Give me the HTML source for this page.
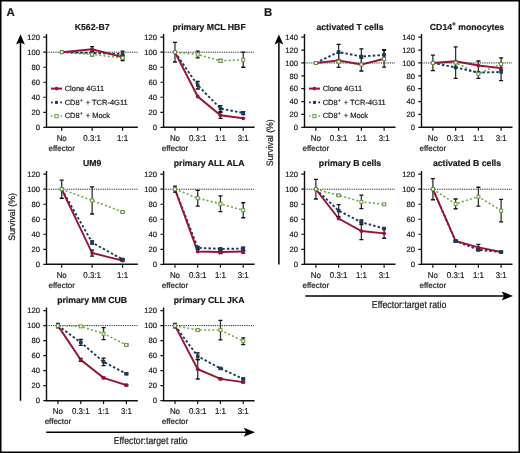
<!DOCTYPE html>
<html><head><meta charset="utf-8"><style>
html,body{margin:0;padding:0;background:#fff;}
body{width:520px;height:453px;overflow:hidden;}
svg{display:block;filter:blur(0.3px);}
text{font-family:"Liberation Sans", sans-serif;fill:#1a1a1a;stroke:#1a1a1a;stroke-width:0.2px;text-rendering:geometricPrecision;}
.yt{font-size:7.6px;text-anchor:end;}
.xt{font-size:8.5px;text-anchor:middle;}
.xe{font-size:8px;text-anchor:middle;}
.tt{font-size:8.7px;font-weight:bold;text-anchor:middle;}
.lg{font-size:7.5px;}
.sup{font-size:5px;}
.sup2{font-size:6.5px;}
.ax{font-size:10px;text-anchor:middle;}
.sv{font-size:9.3px;text-anchor:middle;}
.pl{font-size:11.4px;font-weight:bold;}
</style></head><body>
<svg width="520" height="453" viewBox="0 0 520 453">
<rect x="0" y="0" width="520" height="453" fill="#fff"/>
<rect x="0.75" y="0.75" width="518.5" height="451.5" fill="none" stroke="#000" stroke-width="1.5"/>
<path d="M46.5 34V127.3H137.8" fill="none" stroke="#111" stroke-width="1.4"/>
<path d="M43.3 127.3H46.5M43.3 112.28H46.5M43.3 97.27H46.5M43.3 82.25H46.5M43.3 67.23H46.5M43.3 52.22H46.5M43.3 37.2H46.5M61.72 127.3V130.7M92.15 127.3V130.7M122.58 127.3V130.7" fill="none" stroke="#111" stroke-width="1.2"/>
<text x="39.9" y="130" class="yt">0</text>
<text x="39.9" y="114.98" class="yt">20</text>
<text x="39.9" y="99.97" class="yt">40</text>
<text x="39.9" y="84.95" class="yt">60</text>
<text x="39.9" y="69.93" class="yt">80</text>
<text x="39.9" y="54.92" class="yt">100</text>
<text x="39.9" y="39.9" class="yt">120</text>
<text transform="translate(61.72 141) scale(0.93 1)" class="xt">No</text>
<text transform="translate(92.15 141) scale(0.93 1)" class="xt">0.3:1</text>
<text transform="translate(122.58 141) scale(0.93 1)" class="xt">1:1</text>
<text x="61.72" y="151" class="xe">effector</text>
<text x="92.15" y="29.5" class="tt">K562-B7</text>
<path d="M47.5 52.22H137.8" stroke="#111" stroke-width="1" stroke-dasharray="0.9 0.9"/>
<polyline points="61.72,52.22 92.15,54.47 122.58,57.85" fill="none" stroke="#74a845" stroke-width="1.6" stroke-dasharray="2 2.2"/>
<polyline points="61.72,52.22 92.15,52.97 122.58,54.09" fill="none" stroke="#1c3a5e" stroke-width="1.9" stroke-dasharray="2.5 2.1"/>
<polyline points="61.72,52.22 92.15,49.21 122.58,57.1" fill="none" stroke="#94143a" stroke-width="1.9"/>
<path d="M92.15 46.59V51.84" stroke="#333" stroke-width="1.3" fill="none"/>
<path d="M90.15 46.59H94.15M90.15 51.84H94.15" stroke="#111" stroke-width="1.3" fill="none"/>
<path d="M122.58 55.6V58.6" stroke="#333" stroke-width="1.3" fill="none"/>
<path d="M120.58 55.6H124.58M120.58 58.6H124.58" stroke="#111" stroke-width="1.3" fill="none"/>
<path d="M92.15 51.47V54.47" stroke="#333" stroke-width="1.3" fill="none"/>
<path d="M90.15 51.47H94.15M90.15 54.47H94.15" stroke="#111" stroke-width="1.3" fill="none"/>
<path d="M122.58 51.09V57.1" stroke="#333" stroke-width="1.3" fill="none"/>
<path d="M120.58 51.09H124.58M120.58 57.1H124.58" stroke="#111" stroke-width="1.3" fill="none"/>
<path d="M92.15 52.97V55.97" stroke="#333" stroke-width="1.3" fill="none"/>
<path d="M90.15 52.97H94.15M90.15 55.97H94.15" stroke="#111" stroke-width="1.3" fill="none"/>
<path d="M122.58 55.22V60.48" stroke="#333" stroke-width="1.3" fill="none"/>
<path d="M120.58 55.22H124.58M120.58 60.48H124.58" stroke="#111" stroke-width="1.3" fill="none"/>
<circle cx="61.72" cy="52.22" r="1.9" fill="#94143a"/>
<circle cx="92.15" cy="49.21" r="1.9" fill="#94143a"/>
<circle cx="122.58" cy="57.1" r="1.9" fill="#94143a"/>
<rect x="59.92" y="50.42" width="3.6" height="3.6" fill="#1c3a5e"/>
<rect x="90.35" y="51.17" width="3.6" height="3.6" fill="#1c3a5e"/>
<rect x="120.78" y="52.29" width="3.6" height="3.6" fill="#1c3a5e"/>
<rect x="60.22" y="50.72" width="3" height="3" fill="#fff" stroke="#679a3e" stroke-width="1"/>
<rect x="90.65" y="52.97" width="3" height="3" fill="#fff" stroke="#679a3e" stroke-width="1"/>
<rect x="121.08" y="56.35" width="3" height="3" fill="#fff" stroke="#679a3e" stroke-width="1"/>
<path d="M51 88.6H62" stroke="#94143a" stroke-width="2.0"/>
<circle cx="56.5" cy="88.6" r="1.8" fill="#94143a"/>
<path d="M51 102.4H52.8M60.2 102.4H62" stroke="#1c3a5e" stroke-width="1.8"/>
<rect x="55" y="100.9" width="3" height="3" fill="#1c3a5e"/>
<path d="M51 116.2H52.6M60.4 116.2H62" stroke="#679a3e" stroke-width="1.3"/>
<rect x="54.9" y="114.6" width="3.2" height="3.2" fill="#fff" stroke="#679a3e" stroke-width="1"/>
<text x="64.7" y="91.2" class="lg">Clone 4G11</text>
<text x="64.7" y="104.7" class="lg">CD8<tspan class="sup" dy="-3">+</tspan><tspan dy="3" dx="1"> + TCR-4G11</tspan></text>
<text x="64.7" y="118.4" class="lg">CD8<tspan class="sup" dy="-3">+</tspan><tspan dy="3" dx="1"> + Mock</tspan></text>
<path d="M163.6 34V127.3H254.6" fill="none" stroke="#111" stroke-width="1.4"/>
<path d="M160.4 127.3H163.6M160.4 112.28H163.6M160.4 97.27H163.6M160.4 82.25H163.6M160.4 67.23H163.6M160.4 52.22H163.6M160.4 37.2H163.6M174.97 127.3V130.7M197.72 127.3V130.7M220.47 127.3V130.7M243.22 127.3V130.7" fill="none" stroke="#111" stroke-width="1.2"/>
<text x="157" y="130" class="yt">0</text>
<text x="157" y="114.98" class="yt">20</text>
<text x="157" y="99.97" class="yt">40</text>
<text x="157" y="84.95" class="yt">60</text>
<text x="157" y="69.93" class="yt">80</text>
<text x="157" y="54.92" class="yt">100</text>
<text x="157" y="39.9" class="yt">120</text>
<text transform="translate(174.97 141) scale(0.93 1)" class="xt">No</text>
<text transform="translate(197.72 141) scale(0.93 1)" class="xt">0.3:1</text>
<text transform="translate(220.47 141) scale(0.93 1)" class="xt">1:1</text>
<text transform="translate(243.22 141) scale(0.93 1)" class="xt">3:1</text>
<text x="174.97" y="151" class="xe">effector</text>
<text x="209.1" y="29.5" class="tt">primary MCL HBF</text>
<path d="M164.6 52.22H254.6" stroke="#111" stroke-width="1" stroke-dasharray="0.9 0.9"/>
<polyline points="174.97,52.22 197.72,54.47 220.47,60.85 243.22,59.73" fill="none" stroke="#74a845" stroke-width="1.6" stroke-dasharray="2 2.2"/>
<polyline points="174.97,52.22 197.72,85.25 220.47,108.53 243.22,113.03" fill="none" stroke="#1c3a5e" stroke-width="1.9" stroke-dasharray="2.5 2.1"/>
<polyline points="174.97,52.22 197.72,96.52 220.47,115.29 243.22,118.29" fill="none" stroke="#94143a" stroke-width="1.9"/>
<path d="M174.97 42.46V61.98" stroke="#333" stroke-width="1.3" fill="none"/>
<path d="M172.97 42.46H176.97M172.97 61.98H176.97" stroke="#111" stroke-width="1.3" fill="none"/>
<path d="M220.47 112.28V118.29" stroke="#333" stroke-width="1.3" fill="none"/>
<path d="M218.47 112.28H222.47M218.47 118.29H222.47" stroke="#111" stroke-width="1.3" fill="none"/>
<path d="M197.72 81.5V89.01" stroke="#333" stroke-width="1.3" fill="none"/>
<path d="M195.72 81.5H199.72M195.72 89.01H199.72" stroke="#111" stroke-width="1.3" fill="none"/>
<path d="M220.47 105.53V111.53" stroke="#333" stroke-width="1.3" fill="none"/>
<path d="M218.47 105.53H222.47M218.47 111.53H222.47" stroke="#111" stroke-width="1.3" fill="none"/>
<path d="M243.22 111.53V114.54" stroke="#333" stroke-width="1.3" fill="none"/>
<path d="M241.22 111.53H245.22M241.22 114.54H245.22" stroke="#111" stroke-width="1.3" fill="none"/>
<path d="M197.72 51.09V57.85" stroke="#333" stroke-width="1.3" fill="none"/>
<path d="M195.72 51.09H199.72M195.72 57.85H199.72" stroke="#111" stroke-width="1.3" fill="none"/>
<path d="M220.47 59.35V62.35" stroke="#333" stroke-width="1.3" fill="none"/>
<path d="M218.47 59.35H222.47M218.47 62.35H222.47" stroke="#111" stroke-width="1.3" fill="none"/>
<path d="M243.22 52.22V67.23" stroke="#333" stroke-width="1.3" fill="none"/>
<path d="M241.22 52.22H245.22M241.22 67.23H245.22" stroke="#111" stroke-width="1.3" fill="none"/>
<circle cx="174.97" cy="52.22" r="1.9" fill="#94143a"/>
<circle cx="197.72" cy="96.52" r="1.9" fill="#94143a"/>
<circle cx="220.47" cy="115.29" r="1.9" fill="#94143a"/>
<circle cx="243.22" cy="118.29" r="1.9" fill="#94143a"/>
<rect x="173.17" y="50.42" width="3.6" height="3.6" fill="#1c3a5e"/>
<rect x="195.92" y="83.45" width="3.6" height="3.6" fill="#1c3a5e"/>
<rect x="218.67" y="106.73" width="3.6" height="3.6" fill="#1c3a5e"/>
<rect x="241.42" y="111.23" width="3.6" height="3.6" fill="#1c3a5e"/>
<rect x="173.47" y="50.72" width="3" height="3" fill="#fff" stroke="#679a3e" stroke-width="1"/>
<rect x="196.22" y="52.97" width="3" height="3" fill="#fff" stroke="#679a3e" stroke-width="1"/>
<rect x="218.97" y="59.35" width="3" height="3" fill="#fff" stroke="#679a3e" stroke-width="1"/>
<rect x="241.72" y="58.23" width="3" height="3" fill="#fff" stroke="#679a3e" stroke-width="1"/>
<path d="M46.5 171V264.3H137.8" fill="none" stroke="#111" stroke-width="1.4"/>
<path d="M43.3 264.3H46.5M43.3 249.28H46.5M43.3 234.27H46.5M43.3 219.25H46.5M43.3 204.23H46.5M43.3 189.22H46.5M43.3 174.2H46.5M61.72 264.3V267.7M92.15 264.3V267.7M122.58 264.3V267.7" fill="none" stroke="#111" stroke-width="1.2"/>
<text x="39.9" y="267" class="yt">0</text>
<text x="39.9" y="251.98" class="yt">20</text>
<text x="39.9" y="236.97" class="yt">40</text>
<text x="39.9" y="221.95" class="yt">60</text>
<text x="39.9" y="206.93" class="yt">80</text>
<text x="39.9" y="191.92" class="yt">100</text>
<text x="39.9" y="176.9" class="yt">120</text>
<text transform="translate(61.72 278) scale(0.93 1)" class="xt">No</text>
<text transform="translate(92.15 278) scale(0.93 1)" class="xt">0.3:1</text>
<text transform="translate(122.58 278) scale(0.93 1)" class="xt">1:1</text>
<text x="61.72" y="288" class="xe">effector</text>
<text x="92.15" y="165.8" class="tt">UM9</text>
<path d="M47.5 189.22H137.8" stroke="#111" stroke-width="1" stroke-dasharray="0.9 0.9"/>
<polyline points="61.72,189.22 92.15,200.48 122.58,212.04" fill="none" stroke="#74a845" stroke-width="1.6" stroke-dasharray="2 2.2"/>
<polyline points="61.72,189.22 92.15,242.53 122.58,259.49" fill="none" stroke="#1c3a5e" stroke-width="1.9" stroke-dasharray="2.5 2.1"/>
<polyline points="61.72,189.22 92.15,253.04 122.58,260.55" fill="none" stroke="#94143a" stroke-width="1.9"/>
<path d="M61.72 180.21V198.23" stroke="#333" stroke-width="1.3" fill="none"/>
<path d="M59.72 180.21H63.72M59.72 198.23H63.72" stroke="#111" stroke-width="1.3" fill="none"/>
<path d="M92.15 250.03V256.04" stroke="#333" stroke-width="1.3" fill="none"/>
<path d="M90.15 250.03H94.15M90.15 256.04H94.15" stroke="#111" stroke-width="1.3" fill="none"/>
<path d="M122.58 259.8V261.3" stroke="#333" stroke-width="1.3" fill="none"/>
<path d="M120.58 259.8H124.58M120.58 261.3H124.58" stroke="#111" stroke-width="1.3" fill="none"/>
<path d="M92.15 241.02V244.03" stroke="#333" stroke-width="1.3" fill="none"/>
<path d="M90.15 241.02H94.15M90.15 244.03H94.15" stroke="#111" stroke-width="1.3" fill="none"/>
<path d="M122.58 258.74V260.25" stroke="#333" stroke-width="1.3" fill="none"/>
<path d="M120.58 258.74H124.58M120.58 260.25H124.58" stroke="#111" stroke-width="1.3" fill="none"/>
<path d="M92.15 186.96V213.99" stroke="#333" stroke-width="1.3" fill="none"/>
<path d="M90.15 186.96H94.15M90.15 213.99H94.15" stroke="#111" stroke-width="1.3" fill="none"/>
<path d="M122.58 211.29V212.79" stroke="#333" stroke-width="1.3" fill="none"/>
<path d="M120.58 211.29H124.58M120.58 212.79H124.58" stroke="#111" stroke-width="1.3" fill="none"/>
<circle cx="61.72" cy="189.22" r="1.9" fill="#94143a"/>
<circle cx="92.15" cy="253.04" r="1.9" fill="#94143a"/>
<circle cx="122.58" cy="260.55" r="1.9" fill="#94143a"/>
<rect x="59.92" y="187.42" width="3.6" height="3.6" fill="#1c3a5e"/>
<rect x="90.35" y="240.73" width="3.6" height="3.6" fill="#1c3a5e"/>
<rect x="120.78" y="257.69" width="3.6" height="3.6" fill="#1c3a5e"/>
<rect x="60.22" y="187.72" width="3" height="3" fill="#fff" stroke="#679a3e" stroke-width="1"/>
<rect x="90.65" y="198.98" width="3" height="3" fill="#fff" stroke="#679a3e" stroke-width="1"/>
<rect x="121.08" y="210.54" width="3" height="3" fill="#fff" stroke="#679a3e" stroke-width="1"/>
<path d="M163.6 171V264.3H254.6" fill="none" stroke="#111" stroke-width="1.4"/>
<path d="M160.4 264.3H163.6M160.4 249.28H163.6M160.4 234.27H163.6M160.4 219.25H163.6M160.4 204.23H163.6M160.4 189.22H163.6M160.4 174.2H163.6M174.97 264.3V267.7M197.72 264.3V267.7M220.47 264.3V267.7M243.22 264.3V267.7" fill="none" stroke="#111" stroke-width="1.2"/>
<text x="157" y="267" class="yt">0</text>
<text x="157" y="251.98" class="yt">20</text>
<text x="157" y="236.97" class="yt">40</text>
<text x="157" y="221.95" class="yt">60</text>
<text x="157" y="206.93" class="yt">80</text>
<text x="157" y="191.92" class="yt">100</text>
<text x="157" y="176.9" class="yt">120</text>
<text transform="translate(174.97 278) scale(0.93 1)" class="xt">No</text>
<text transform="translate(197.72 278) scale(0.93 1)" class="xt">0.3:1</text>
<text transform="translate(220.47 278) scale(0.93 1)" class="xt">1:1</text>
<text transform="translate(243.22 278) scale(0.93 1)" class="xt">3:1</text>
<text x="174.97" y="288" class="xe">effector</text>
<text x="209.1" y="165.8" class="tt">primary ALL ALA</text>
<path d="M164.6 189.22H254.6" stroke="#111" stroke-width="1" stroke-dasharray="0.9 0.9"/>
<polyline points="174.97,189.22 197.72,198.23 220.47,203.78 243.22,210.24" fill="none" stroke="#74a845" stroke-width="1.6" stroke-dasharray="2 2.2"/>
<polyline points="174.97,189.22 197.72,247.78 220.47,248.91 243.22,248.53" fill="none" stroke="#1c3a5e" stroke-width="1.9" stroke-dasharray="2.5 2.1"/>
<polyline points="174.97,189.22 197.72,251.54 220.47,251.99 243.22,251.54" fill="none" stroke="#94143a" stroke-width="1.9"/>
<path d="M174.97 186.21V192.22" stroke="#333" stroke-width="1.3" fill="none"/>
<path d="M172.97 186.21H176.97M172.97 192.22H176.97" stroke="#111" stroke-width="1.3" fill="none"/>
<path d="M220.47 250.48V253.49" stroke="#333" stroke-width="1.3" fill="none"/>
<path d="M218.47 250.48H222.47M218.47 253.49H222.47" stroke="#111" stroke-width="1.3" fill="none"/>
<path d="M243.22 250.03V253.04" stroke="#333" stroke-width="1.3" fill="none"/>
<path d="M241.22 250.03H245.22M241.22 253.04H245.22" stroke="#111" stroke-width="1.3" fill="none"/>
<path d="M197.72 246.28V249.28" stroke="#333" stroke-width="1.3" fill="none"/>
<path d="M195.72 246.28H199.72M195.72 249.28H199.72" stroke="#111" stroke-width="1.3" fill="none"/>
<path d="M220.47 248.16V249.66" stroke="#333" stroke-width="1.3" fill="none"/>
<path d="M218.47 248.16H222.47M218.47 249.66H222.47" stroke="#111" stroke-width="1.3" fill="none"/>
<path d="M243.22 247.03V250.03" stroke="#333" stroke-width="1.3" fill="none"/>
<path d="M241.22 247.03H245.22M241.22 250.03H245.22" stroke="#111" stroke-width="1.3" fill="none"/>
<path d="M197.72 190.34V206.11" stroke="#333" stroke-width="1.3" fill="none"/>
<path d="M195.72 190.34H199.72M195.72 206.11H199.72" stroke="#111" stroke-width="1.3" fill="none"/>
<path d="M220.47 195.9V211.67" stroke="#333" stroke-width="1.3" fill="none"/>
<path d="M218.47 195.9H222.47M218.47 211.67H222.47" stroke="#111" stroke-width="1.3" fill="none"/>
<path d="M243.22 202.73V217.75" stroke="#333" stroke-width="1.3" fill="none"/>
<path d="M241.22 202.73H245.22M241.22 217.75H245.22" stroke="#111" stroke-width="1.3" fill="none"/>
<circle cx="174.97" cy="189.22" r="1.9" fill="#94143a"/>
<circle cx="197.72" cy="251.54" r="1.9" fill="#94143a"/>
<circle cx="220.47" cy="251.99" r="1.9" fill="#94143a"/>
<circle cx="243.22" cy="251.54" r="1.9" fill="#94143a"/>
<rect x="173.17" y="187.42" width="3.6" height="3.6" fill="#1c3a5e"/>
<rect x="195.92" y="245.98" width="3.6" height="3.6" fill="#1c3a5e"/>
<rect x="218.67" y="247.11" width="3.6" height="3.6" fill="#1c3a5e"/>
<rect x="241.42" y="246.73" width="3.6" height="3.6" fill="#1c3a5e"/>
<rect x="173.47" y="187.72" width="3" height="3" fill="#fff" stroke="#679a3e" stroke-width="1"/>
<rect x="196.22" y="196.73" width="3" height="3" fill="#fff" stroke="#679a3e" stroke-width="1"/>
<rect x="218.97" y="202.28" width="3" height="3" fill="#fff" stroke="#679a3e" stroke-width="1"/>
<rect x="241.72" y="208.74" width="3" height="3" fill="#fff" stroke="#679a3e" stroke-width="1"/>
<path d="M46.5 307.4V400.7H137.8" fill="none" stroke="#111" stroke-width="1.4"/>
<path d="M43.3 400.7H46.5M43.3 385.68H46.5M43.3 370.67H46.5M43.3 355.65H46.5M43.3 340.63H46.5M43.3 325.62H46.5M43.3 310.6H46.5M57.91 400.7V404.1M80.74 400.7V404.1M103.56 400.7V404.1M126.39 400.7V404.1" fill="none" stroke="#111" stroke-width="1.2"/>
<text x="39.9" y="403.4" class="yt">0</text>
<text x="39.9" y="388.38" class="yt">20</text>
<text x="39.9" y="373.37" class="yt">40</text>
<text x="39.9" y="358.35" class="yt">60</text>
<text x="39.9" y="343.33" class="yt">80</text>
<text x="39.9" y="328.32" class="yt">100</text>
<text x="39.9" y="313.3" class="yt">120</text>
<text transform="translate(57.91 414.4) scale(0.93 1)" class="xt">No</text>
<text transform="translate(80.74 414.4) scale(0.93 1)" class="xt">0.3:1</text>
<text transform="translate(103.56 414.4) scale(0.93 1)" class="xt">1:1</text>
<text transform="translate(126.39 414.4) scale(0.93 1)" class="xt">3:1</text>
<text x="57.91" y="424.4" class="xe">effector</text>
<text x="92.15" y="302.7" class="tt">primary MM CUB</text>
<path d="M47.5 325.62H137.8" stroke="#111" stroke-width="1" stroke-dasharray="0.9 0.9"/>
<polyline points="57.91,325.62 80.74,326.37 103.56,333.65 126.39,344.91" fill="none" stroke="#74a845" stroke-width="1.6" stroke-dasharray="2 2.2"/>
<polyline points="57.91,325.62 80.74,342.36 103.56,361.88 126.39,373.75" fill="none" stroke="#1c3a5e" stroke-width="1.9" stroke-dasharray="2.5 2.1"/>
<polyline points="57.91,325.62 80.74,359.85 103.56,377.8 126.39,385.16" fill="none" stroke="#94143a" stroke-width="1.9"/>
<path d="M57.91 323.36V327.87" stroke="#333" stroke-width="1.3" fill="none"/>
<path d="M55.91 323.36H59.91M55.91 327.87H59.91" stroke="#111" stroke-width="1.3" fill="none"/>
<path d="M80.74 358.35V361.36" stroke="#333" stroke-width="1.3" fill="none"/>
<path d="M78.74 358.35H82.74M78.74 361.36H82.74" stroke="#111" stroke-width="1.3" fill="none"/>
<path d="M103.56 377.05V378.55" stroke="#333" stroke-width="1.3" fill="none"/>
<path d="M101.56 377.05H105.56M101.56 378.55H105.56" stroke="#111" stroke-width="1.3" fill="none"/>
<path d="M126.39 384.41V385.91" stroke="#333" stroke-width="1.3" fill="none"/>
<path d="M124.39 384.41H128.39M124.39 385.91H128.39" stroke="#111" stroke-width="1.3" fill="none"/>
<path d="M80.74 339.36V345.36" stroke="#333" stroke-width="1.3" fill="none"/>
<path d="M78.74 339.36H82.74M78.74 345.36H82.74" stroke="#111" stroke-width="1.3" fill="none"/>
<path d="M103.56 358.13V365.64" stroke="#333" stroke-width="1.3" fill="none"/>
<path d="M101.56 358.13H105.56M101.56 365.64H105.56" stroke="#111" stroke-width="1.3" fill="none"/>
<path d="M126.39 372.99V374.5" stroke="#333" stroke-width="1.3" fill="none"/>
<path d="M124.39 372.99H128.39M124.39 374.5H128.39" stroke="#111" stroke-width="1.3" fill="none"/>
<path d="M103.56 327.64V339.66" stroke="#333" stroke-width="1.3" fill="none"/>
<path d="M101.56 327.64H105.56M101.56 339.66H105.56" stroke="#111" stroke-width="1.3" fill="none"/>
<path d="M126.39 344.16V345.66" stroke="#333" stroke-width="1.3" fill="none"/>
<path d="M124.39 344.16H128.39M124.39 345.66H128.39" stroke="#111" stroke-width="1.3" fill="none"/>
<circle cx="57.91" cy="325.62" r="1.9" fill="#94143a"/>
<circle cx="80.74" cy="359.85" r="1.9" fill="#94143a"/>
<circle cx="103.56" cy="377.8" r="1.9" fill="#94143a"/>
<circle cx="126.39" cy="385.16" r="1.9" fill="#94143a"/>
<rect x="56.11" y="323.82" width="3.6" height="3.6" fill="#1c3a5e"/>
<rect x="78.94" y="340.56" width="3.6" height="3.6" fill="#1c3a5e"/>
<rect x="101.76" y="360.08" width="3.6" height="3.6" fill="#1c3a5e"/>
<rect x="124.59" y="371.95" width="3.6" height="3.6" fill="#1c3a5e"/>
<rect x="56.41" y="324.12" width="3" height="3" fill="#fff" stroke="#679a3e" stroke-width="1"/>
<rect x="79.24" y="324.87" width="3" height="3" fill="#fff" stroke="#679a3e" stroke-width="1"/>
<rect x="102.06" y="332.15" width="3" height="3" fill="#fff" stroke="#679a3e" stroke-width="1"/>
<rect x="124.89" y="343.41" width="3" height="3" fill="#fff" stroke="#679a3e" stroke-width="1"/>
<path d="M163.6 307.4V400.7H254.6" fill="none" stroke="#111" stroke-width="1.4"/>
<path d="M160.4 400.7H163.6M160.4 385.68H163.6M160.4 370.67H163.6M160.4 355.65H163.6M160.4 340.63H163.6M160.4 325.62H163.6M160.4 310.6H163.6M174.97 400.7V404.1M197.72 400.7V404.1M220.47 400.7V404.1M243.22 400.7V404.1" fill="none" stroke="#111" stroke-width="1.2"/>
<text x="157" y="403.4" class="yt">0</text>
<text x="157" y="388.38" class="yt">20</text>
<text x="157" y="373.37" class="yt">40</text>
<text x="157" y="358.35" class="yt">60</text>
<text x="157" y="343.33" class="yt">80</text>
<text x="157" y="328.32" class="yt">100</text>
<text x="157" y="313.3" class="yt">120</text>
<text transform="translate(174.97 414.4) scale(0.93 1)" class="xt">No</text>
<text transform="translate(197.72 414.4) scale(0.93 1)" class="xt">0.3:1</text>
<text transform="translate(220.47 414.4) scale(0.93 1)" class="xt">1:1</text>
<text transform="translate(243.22 414.4) scale(0.93 1)" class="xt">3:1</text>
<text x="174.97" y="424.4" class="xe">effector</text>
<text x="209.1" y="302.7" class="tt">primary CLL JKA</text>
<path d="M164.6 325.62H254.6" stroke="#111" stroke-width="1" stroke-dasharray="0.9 0.9"/>
<polyline points="174.97,325.62 197.72,330.05 220.47,330.05 243.22,341.16" fill="none" stroke="#74a845" stroke-width="1.6" stroke-dasharray="2 2.2"/>
<polyline points="174.97,325.62 197.72,356.25 220.47,368.41 243.22,378.93" fill="none" stroke="#1c3a5e" stroke-width="1.9" stroke-dasharray="2.5 2.1"/>
<polyline points="174.97,325.62 197.72,369.24 220.47,378.93 243.22,382.08" fill="none" stroke="#94143a" stroke-width="1.9"/>
<path d="M174.97 323.36V327.87" stroke="#333" stroke-width="1.3" fill="none"/>
<path d="M172.97 323.36H176.97M172.97 327.87H176.97" stroke="#111" stroke-width="1.3" fill="none"/>
<path d="M197.72 359.48V379" stroke="#333" stroke-width="1.3" fill="none"/>
<path d="M195.72 359.48H199.72M195.72 379H199.72" stroke="#111" stroke-width="1.3" fill="none"/>
<path d="M220.47 378.18V379.68" stroke="#333" stroke-width="1.3" fill="none"/>
<path d="M218.47 378.18H222.47M218.47 379.68H222.47" stroke="#111" stroke-width="1.3" fill="none"/>
<path d="M243.22 381.33V382.83" stroke="#333" stroke-width="1.3" fill="none"/>
<path d="M241.22 381.33H245.22M241.22 382.83H245.22" stroke="#111" stroke-width="1.3" fill="none"/>
<path d="M197.72 352.87V359.63" stroke="#333" stroke-width="1.3" fill="none"/>
<path d="M195.72 352.87H199.72M195.72 359.63H199.72" stroke="#111" stroke-width="1.3" fill="none"/>
<path d="M220.47 367.66V369.16" stroke="#333" stroke-width="1.3" fill="none"/>
<path d="M218.47 367.66H222.47M218.47 369.16H222.47" stroke="#111" stroke-width="1.3" fill="none"/>
<path d="M243.22 378.18V379.68" stroke="#333" stroke-width="1.3" fill="none"/>
<path d="M241.22 378.18H245.22M241.22 379.68H245.22" stroke="#111" stroke-width="1.3" fill="none"/>
<path d="M197.72 329.3V330.8" stroke="#333" stroke-width="1.3" fill="none"/>
<path d="M195.72 329.3H199.72M195.72 330.8H199.72" stroke="#111" stroke-width="1.3" fill="none"/>
<path d="M220.47 320.29V339.81" stroke="#333" stroke-width="1.3" fill="none"/>
<path d="M218.47 320.29H222.47M218.47 339.81H222.47" stroke="#111" stroke-width="1.3" fill="none"/>
<path d="M243.22 337.78V344.54" stroke="#333" stroke-width="1.3" fill="none"/>
<path d="M241.22 337.78H245.22M241.22 344.54H245.22" stroke="#111" stroke-width="1.3" fill="none"/>
<circle cx="174.97" cy="325.62" r="1.9" fill="#94143a"/>
<circle cx="197.72" cy="369.24" r="1.9" fill="#94143a"/>
<circle cx="220.47" cy="378.93" r="1.9" fill="#94143a"/>
<circle cx="243.22" cy="382.08" r="1.9" fill="#94143a"/>
<rect x="173.17" y="323.82" width="3.6" height="3.6" fill="#1c3a5e"/>
<rect x="195.92" y="354.45" width="3.6" height="3.6" fill="#1c3a5e"/>
<rect x="218.67" y="366.61" width="3.6" height="3.6" fill="#1c3a5e"/>
<rect x="241.42" y="377.13" width="3.6" height="3.6" fill="#1c3a5e"/>
<rect x="173.47" y="324.12" width="3" height="3" fill="#fff" stroke="#679a3e" stroke-width="1"/>
<rect x="196.22" y="328.55" width="3" height="3" fill="#fff" stroke="#679a3e" stroke-width="1"/>
<rect x="218.97" y="328.55" width="3" height="3" fill="#fff" stroke="#679a3e" stroke-width="1"/>
<rect x="241.72" y="339.66" width="3" height="3" fill="#fff" stroke="#679a3e" stroke-width="1"/>
<path d="M304.5 34V127.3H395.5" fill="none" stroke="#111" stroke-width="1.4"/>
<path d="M301.3 127.3H304.5M301.3 114.43H304.5M301.3 101.56H304.5M301.3 88.69H304.5M301.3 75.81H304.5M301.3 62.94H304.5M301.3 50.07H304.5M301.3 37.2H304.5M315.88 127.3V130.7M338.62 127.3V130.7M361.38 127.3V130.7M384.12 127.3V130.7" fill="none" stroke="#111" stroke-width="1.2"/>
<text x="297.9" y="130" class="yt">0</text>
<text x="297.9" y="117.13" class="yt">20</text>
<text x="297.9" y="104.26" class="yt">40</text>
<text x="297.9" y="91.39" class="yt">60</text>
<text x="297.9" y="78.51" class="yt">80</text>
<text x="297.9" y="65.64" class="yt">100</text>
<text x="297.9" y="52.77" class="yt">120</text>
<text x="297.9" y="39.9" class="yt">140</text>
<text transform="translate(315.88 141) scale(0.93 1)" class="xt">No</text>
<text transform="translate(338.62 141) scale(0.93 1)" class="xt">0.3:1</text>
<text transform="translate(361.38 141) scale(0.93 1)" class="xt">1:1</text>
<text transform="translate(384.12 141) scale(0.93 1)" class="xt">3:1</text>
<text x="315.88" y="151" class="xe">effector</text>
<text x="350" y="29.5" class="tt">activated T cells</text>
<path d="M305.5 62.94H395.5" stroke="#111" stroke-width="1" stroke-dasharray="0.9 0.9"/>
<polyline points="315.88,62.94 338.62,61.66 361.38,64.55 384.12,59.08" fill="none" stroke="#74a845" stroke-width="1.6" stroke-dasharray="2 2.2"/>
<polyline points="315.88,62.94 338.62,52 361.38,56.51 384.12,54.9" fill="none" stroke="#1c3a5e" stroke-width="1.9" stroke-dasharray="2.5 2.1"/>
<polyline points="315.88,62.94 338.62,60.37 361.38,64.55 384.12,58.76" fill="none" stroke="#94143a" stroke-width="1.9"/>
<path d="M315.88 61.66V64.23" stroke="#333" stroke-width="1.3" fill="none"/>
<path d="M313.88 61.66H317.88M313.88 64.23H317.88" stroke="#111" stroke-width="1.3" fill="none"/>
<path d="M338.62 53.29V67.45" stroke="#333" stroke-width="1.3" fill="none"/>
<path d="M336.62 53.29H340.62M336.62 67.45H340.62" stroke="#111" stroke-width="1.3" fill="none"/>
<path d="M384.12 50.39V67.13" stroke="#333" stroke-width="1.3" fill="none"/>
<path d="M382.12 50.39H386.12M382.12 67.13H386.12" stroke="#111" stroke-width="1.3" fill="none"/>
<path d="M338.62 44.28V59.72" stroke="#333" stroke-width="1.3" fill="none"/>
<path d="M336.62 44.28H340.62M336.62 59.72H340.62" stroke="#111" stroke-width="1.3" fill="none"/>
<path d="M361.38 48.78V64.23" stroke="#333" stroke-width="1.3" fill="none"/>
<path d="M359.38 48.78H363.38M359.38 64.23H363.38" stroke="#111" stroke-width="1.3" fill="none"/>
<path d="M384.12 49.75V60.05" stroke="#333" stroke-width="1.3" fill="none"/>
<path d="M382.12 49.75H386.12M382.12 60.05H386.12" stroke="#111" stroke-width="1.3" fill="none"/>
<path d="M361.38 58.12V70.99" stroke="#333" stroke-width="1.3" fill="none"/>
<path d="M359.38 58.12H363.38M359.38 70.99H363.38" stroke="#111" stroke-width="1.3" fill="none"/>
<circle cx="315.88" cy="62.94" r="1.9" fill="#94143a"/>
<circle cx="338.62" cy="60.37" r="1.9" fill="#94143a"/>
<circle cx="361.38" cy="64.55" r="1.9" fill="#94143a"/>
<circle cx="384.12" cy="58.76" r="1.9" fill="#94143a"/>
<rect x="314.07" y="61.14" width="3.6" height="3.6" fill="#1c3a5e"/>
<rect x="336.82" y="50.2" width="3.6" height="3.6" fill="#1c3a5e"/>
<rect x="359.57" y="54.71" width="3.6" height="3.6" fill="#1c3a5e"/>
<rect x="382.32" y="53.1" width="3.6" height="3.6" fill="#1c3a5e"/>
<rect x="314.38" y="61.44" width="3" height="3" fill="#fff" stroke="#679a3e" stroke-width="1"/>
<rect x="337.12" y="60.16" width="3" height="3" fill="#fff" stroke="#679a3e" stroke-width="1"/>
<rect x="359.88" y="63.05" width="3" height="3" fill="#fff" stroke="#679a3e" stroke-width="1"/>
<rect x="382.62" y="57.58" width="3" height="3" fill="#fff" stroke="#679a3e" stroke-width="1"/>
<path d="M309 88.6H320" stroke="#94143a" stroke-width="2.0"/>
<circle cx="314.5" cy="88.6" r="1.8" fill="#94143a"/>
<path d="M309 102.4H310.8M318.2 102.4H320" stroke="#1c3a5e" stroke-width="1.8"/>
<rect x="313" y="100.9" width="3" height="3" fill="#1c3a5e"/>
<path d="M309 116.2H310.6M318.4 116.2H320" stroke="#679a3e" stroke-width="1.3"/>
<rect x="312.9" y="114.6" width="3.2" height="3.2" fill="#fff" stroke="#679a3e" stroke-width="1"/>
<text x="322.7" y="91.2" class="lg">Clone 4G11</text>
<text x="322.7" y="104.7" class="lg">CD8<tspan class="sup" dy="-3">+</tspan><tspan dy="3" dx="1"> + TCR-4G11</tspan></text>
<text x="322.7" y="118.4" class="lg">CD8<tspan class="sup" dy="-3">+</tspan><tspan dy="3" dx="1"> + Mock</tspan></text>
<path d="M421.5 34V127.3H512.5" fill="none" stroke="#111" stroke-width="1.4"/>
<path d="M418.3 127.3H421.5M418.3 114.43H421.5M418.3 101.56H421.5M418.3 88.69H421.5M418.3 75.81H421.5M418.3 62.94H421.5M418.3 50.07H421.5M418.3 37.2H421.5M432.88 127.3V130.7M455.62 127.3V130.7M478.38 127.3V130.7M501.12 127.3V130.7" fill="none" stroke="#111" stroke-width="1.2"/>
<text x="414.9" y="130" class="yt">0</text>
<text x="414.9" y="117.13" class="yt">20</text>
<text x="414.9" y="104.26" class="yt">40</text>
<text x="414.9" y="91.39" class="yt">60</text>
<text x="414.9" y="78.51" class="yt">80</text>
<text x="414.9" y="65.64" class="yt">100</text>
<text x="414.9" y="52.77" class="yt">120</text>
<text x="414.9" y="39.9" class="yt">140</text>
<text transform="translate(432.88 141) scale(0.93 1)" class="xt">No</text>
<text transform="translate(455.62 141) scale(0.93 1)" class="xt">0.3:1</text>
<text transform="translate(478.38 141) scale(0.93 1)" class="xt">1:1</text>
<text transform="translate(501.12 141) scale(0.93 1)" class="xt">3:1</text>
<text x="432.88" y="151" class="xe">effector</text>
<text x="467" y="29.5" class="tt">CD14<tspan class="sup2" dy="-3.3">+</tspan><tspan dy="3.3"> monocytes</tspan></text>
<path d="M422.5 62.94H512.5" stroke="#111" stroke-width="1" stroke-dasharray="0.9 0.9"/>
<polyline points="432.88,62.94 455.62,62.62 478.38,73.88 501.12,63.91" fill="none" stroke="#74a845" stroke-width="1.6" stroke-dasharray="2 2.2"/>
<polyline points="432.88,62.94 455.62,67.45 478.38,72.6 501.12,71.95" fill="none" stroke="#1c3a5e" stroke-width="1.9" stroke-dasharray="2.5 2.1"/>
<polyline points="432.88,62.94 455.62,61.33 478.38,65.52 501.12,68.09" fill="none" stroke="#94143a" stroke-width="1.9"/>
<path d="M432.88 55.22V70.67" stroke="#333" stroke-width="1.3" fill="none"/>
<path d="M430.88 55.22H434.88M430.88 70.67H434.88" stroke="#111" stroke-width="1.3" fill="none"/>
<path d="M501.12 63.26V80.64" stroke="#333" stroke-width="1.3" fill="none"/>
<path d="M499.12 63.26H503.12M499.12 80.64H503.12" stroke="#111" stroke-width="1.3" fill="none"/>
<path d="M455.62 46.92V78.32" stroke="#333" stroke-width="1.3" fill="none"/>
<path d="M453.62 46.92H457.62M453.62 78.32H457.62" stroke="#111" stroke-width="1.3" fill="none"/>
<path d="M478.38 61.01V78.39" stroke="#333" stroke-width="1.3" fill="none"/>
<path d="M476.38 61.01H480.38M476.38 78.39H480.38" stroke="#111" stroke-width="1.3" fill="none"/>
<path d="M501.12 57.79V70.02" stroke="#333" stroke-width="1.3" fill="none"/>
<path d="M499.12 57.79H503.12M499.12 70.02H503.12" stroke="#111" stroke-width="1.3" fill="none"/>
<circle cx="432.88" cy="62.94" r="1.9" fill="#94143a"/>
<circle cx="455.62" cy="61.33" r="1.9" fill="#94143a"/>
<circle cx="478.38" cy="65.52" r="1.9" fill="#94143a"/>
<circle cx="501.12" cy="68.09" r="1.9" fill="#94143a"/>
<rect x="431.07" y="61.14" width="3.6" height="3.6" fill="#1c3a5e"/>
<rect x="453.82" y="65.65" width="3.6" height="3.6" fill="#1c3a5e"/>
<rect x="476.57" y="70.8" width="3.6" height="3.6" fill="#1c3a5e"/>
<rect x="499.32" y="70.15" width="3.6" height="3.6" fill="#1c3a5e"/>
<rect x="431.38" y="61.44" width="3" height="3" fill="#fff" stroke="#679a3e" stroke-width="1"/>
<rect x="454.12" y="61.12" width="3" height="3" fill="#fff" stroke="#679a3e" stroke-width="1"/>
<rect x="476.88" y="72.38" width="3" height="3" fill="#fff" stroke="#679a3e" stroke-width="1"/>
<rect x="499.62" y="62.41" width="3" height="3" fill="#fff" stroke="#679a3e" stroke-width="1"/>
<path d="M304.5 171V264.3H395.5" fill="none" stroke="#111" stroke-width="1.4"/>
<path d="M301.3 264.3H304.5M301.3 249.28H304.5M301.3 234.27H304.5M301.3 219.25H304.5M301.3 204.23H304.5M301.3 189.22H304.5M301.3 174.2H304.5M315.88 264.3V267.7M338.62 264.3V267.7M361.38 264.3V267.7M384.12 264.3V267.7" fill="none" stroke="#111" stroke-width="1.2"/>
<text x="297.9" y="267" class="yt">0</text>
<text x="297.9" y="251.98" class="yt">20</text>
<text x="297.9" y="236.97" class="yt">40</text>
<text x="297.9" y="221.95" class="yt">60</text>
<text x="297.9" y="206.93" class="yt">80</text>
<text x="297.9" y="191.92" class="yt">100</text>
<text x="297.9" y="176.9" class="yt">120</text>
<text transform="translate(315.88 278) scale(0.93 1)" class="xt">No</text>
<text transform="translate(338.62 278) scale(0.93 1)" class="xt">0.3:1</text>
<text transform="translate(361.38 278) scale(0.93 1)" class="xt">1:1</text>
<text transform="translate(384.12 278) scale(0.93 1)" class="xt">3:1</text>
<text x="315.88" y="288" class="xe">effector</text>
<text x="350" y="165.8" class="tt">primary B cells</text>
<path d="M305.5 189.22H395.5" stroke="#111" stroke-width="1" stroke-dasharray="0.9 0.9"/>
<polyline points="315.88,189.22 338.62,195.3 361.38,201.83 384.12,204.38" fill="none" stroke="#74a845" stroke-width="1.6" stroke-dasharray="2 2.2"/>
<polyline points="315.88,189.22 338.62,210.62 361.38,222.25 384.12,228.56" fill="none" stroke="#1c3a5e" stroke-width="1.9" stroke-dasharray="2.5 2.1"/>
<polyline points="315.88,189.22 338.62,218.5 361.38,231.04 384.12,233.37" fill="none" stroke="#94143a" stroke-width="1.9"/>
<path d="M315.88 179.46V198.98" stroke="#333" stroke-width="1.3" fill="none"/>
<path d="M313.88 179.46H317.88M313.88 198.98H317.88" stroke="#111" stroke-width="1.3" fill="none"/>
<path d="M361.38 222.4V239.67" stroke="#333" stroke-width="1.3" fill="none"/>
<path d="M359.38 222.4H363.38M359.38 239.67H363.38" stroke="#111" stroke-width="1.3" fill="none"/>
<path d="M384.12 228.49V238.25" stroke="#333" stroke-width="1.3" fill="none"/>
<path d="M382.12 228.49H386.12M382.12 238.25H386.12" stroke="#111" stroke-width="1.3" fill="none"/>
<path d="M338.62 204.61V216.62" stroke="#333" stroke-width="1.3" fill="none"/>
<path d="M336.62 204.61H340.62M336.62 216.62H340.62" stroke="#111" stroke-width="1.3" fill="none"/>
<path d="M361.38 220V224.51" stroke="#333" stroke-width="1.3" fill="none"/>
<path d="M359.38 220H363.38M359.38 224.51H363.38" stroke="#111" stroke-width="1.3" fill="none"/>
<path d="M338.62 194.55V196.05" stroke="#333" stroke-width="1.3" fill="none"/>
<path d="M336.62 194.55H340.62M336.62 196.05H340.62" stroke="#111" stroke-width="1.3" fill="none"/>
<path d="M361.38 195.07V208.59" stroke="#333" stroke-width="1.3" fill="none"/>
<path d="M359.38 195.07H363.38M359.38 208.59H363.38" stroke="#111" stroke-width="1.3" fill="none"/>
<path d="M384.12 203.63V205.13" stroke="#333" stroke-width="1.3" fill="none"/>
<path d="M382.12 203.63H386.12M382.12 205.13H386.12" stroke="#111" stroke-width="1.3" fill="none"/>
<circle cx="315.88" cy="189.22" r="1.9" fill="#94143a"/>
<circle cx="338.62" cy="218.5" r="1.9" fill="#94143a"/>
<circle cx="361.38" cy="231.04" r="1.9" fill="#94143a"/>
<circle cx="384.12" cy="233.37" r="1.9" fill="#94143a"/>
<rect x="314.07" y="187.42" width="3.6" height="3.6" fill="#1c3a5e"/>
<rect x="336.82" y="208.82" width="3.6" height="3.6" fill="#1c3a5e"/>
<rect x="359.57" y="220.45" width="3.6" height="3.6" fill="#1c3a5e"/>
<rect x="382.32" y="226.76" width="3.6" height="3.6" fill="#1c3a5e"/>
<rect x="314.38" y="187.72" width="3" height="3" fill="#fff" stroke="#679a3e" stroke-width="1"/>
<rect x="337.12" y="193.8" width="3" height="3" fill="#fff" stroke="#679a3e" stroke-width="1"/>
<rect x="359.88" y="200.33" width="3" height="3" fill="#fff" stroke="#679a3e" stroke-width="1"/>
<rect x="382.62" y="202.88" width="3" height="3" fill="#fff" stroke="#679a3e" stroke-width="1"/>
<path d="M421.5 171V264.3H512.5" fill="none" stroke="#111" stroke-width="1.4"/>
<path d="M418.3 264.3H421.5M418.3 249.28H421.5M418.3 234.27H421.5M418.3 219.25H421.5M418.3 204.23H421.5M418.3 189.22H421.5M418.3 174.2H421.5M432.88 264.3V267.7M455.62 264.3V267.7M478.38 264.3V267.7M501.12 264.3V267.7" fill="none" stroke="#111" stroke-width="1.2"/>
<text x="414.9" y="267" class="yt">0</text>
<text x="414.9" y="251.98" class="yt">20</text>
<text x="414.9" y="236.97" class="yt">40</text>
<text x="414.9" y="221.95" class="yt">60</text>
<text x="414.9" y="206.93" class="yt">80</text>
<text x="414.9" y="191.92" class="yt">100</text>
<text x="414.9" y="176.9" class="yt">120</text>
<text transform="translate(432.88 278) scale(0.93 1)" class="xt">No</text>
<text transform="translate(455.62 278) scale(0.93 1)" class="xt">0.3:1</text>
<text transform="translate(478.38 278) scale(0.93 1)" class="xt">1:1</text>
<text transform="translate(501.12 278) scale(0.93 1)" class="xt">3:1</text>
<text x="432.88" y="288" class="xe">effector</text>
<text x="467" y="165.8" class="tt">activated B cells</text>
<path d="M422.5 189.22H512.5" stroke="#111" stroke-width="1" stroke-dasharray="0.9 0.9"/>
<polyline points="432.88,189.22 455.62,203.86 478.38,196.65 501.12,210.62" fill="none" stroke="#74a845" stroke-width="1.6" stroke-dasharray="2 2.2"/>
<polyline points="432.88,189.22 455.62,241.02 478.38,249.88 501.12,251.99" fill="none" stroke="#1c3a5e" stroke-width="1.9" stroke-dasharray="2.5 2.1"/>
<polyline points="432.88,189.22 455.62,241.02 478.38,247.41 501.12,251.99" fill="none" stroke="#94143a" stroke-width="1.9"/>
<path d="M432.88 178.71V199.73" stroke="#333" stroke-width="1.3" fill="none"/>
<path d="M430.88 178.71H434.88M430.88 199.73H434.88" stroke="#111" stroke-width="1.3" fill="none"/>
<path d="M455.62 240.27V241.78" stroke="#333" stroke-width="1.3" fill="none"/>
<path d="M453.62 240.27H457.62M453.62 241.78H457.62" stroke="#111" stroke-width="1.3" fill="none"/>
<path d="M478.38 244.4V250.41" stroke="#333" stroke-width="1.3" fill="none"/>
<path d="M476.38 244.4H480.38M476.38 250.41H480.38" stroke="#111" stroke-width="1.3" fill="none"/>
<path d="M501.12 251.24V252.74" stroke="#333" stroke-width="1.3" fill="none"/>
<path d="M499.12 251.24H503.12M499.12 252.74H503.12" stroke="#111" stroke-width="1.3" fill="none"/>
<path d="M455.62 240.27V241.78" stroke="#333" stroke-width="1.3" fill="none"/>
<path d="M453.62 240.27H457.62M453.62 241.78H457.62" stroke="#111" stroke-width="1.3" fill="none"/>
<path d="M478.38 249.13V250.63" stroke="#333" stroke-width="1.3" fill="none"/>
<path d="M476.38 249.13H480.38M476.38 250.63H480.38" stroke="#111" stroke-width="1.3" fill="none"/>
<path d="M501.12 251.24V252.74" stroke="#333" stroke-width="1.3" fill="none"/>
<path d="M499.12 251.24H503.12M499.12 252.74H503.12" stroke="#111" stroke-width="1.3" fill="none"/>
<path d="M455.62 198.98V208.74" stroke="#333" stroke-width="1.3" fill="none"/>
<path d="M453.62 198.98H457.62M453.62 208.74H457.62" stroke="#111" stroke-width="1.3" fill="none"/>
<path d="M478.38 187.26V206.04" stroke="#333" stroke-width="1.3" fill="none"/>
<path d="M476.38 187.26H480.38M476.38 206.04H480.38" stroke="#111" stroke-width="1.3" fill="none"/>
<path d="M501.12 199.35V221.88" stroke="#333" stroke-width="1.3" fill="none"/>
<path d="M499.12 199.35H503.12M499.12 221.88H503.12" stroke="#111" stroke-width="1.3" fill="none"/>
<circle cx="432.88" cy="189.22" r="1.9" fill="#94143a"/>
<circle cx="455.62" cy="241.02" r="1.9" fill="#94143a"/>
<circle cx="478.38" cy="247.41" r="1.9" fill="#94143a"/>
<circle cx="501.12" cy="251.99" r="1.9" fill="#94143a"/>
<rect x="431.07" y="187.42" width="3.6" height="3.6" fill="#1c3a5e"/>
<rect x="453.82" y="239.22" width="3.6" height="3.6" fill="#1c3a5e"/>
<rect x="476.57" y="248.08" width="3.6" height="3.6" fill="#1c3a5e"/>
<rect x="499.32" y="250.19" width="3.6" height="3.6" fill="#1c3a5e"/>
<rect x="431.38" y="187.72" width="3" height="3" fill="#fff" stroke="#679a3e" stroke-width="1"/>
<rect x="454.12" y="202.36" width="3" height="3" fill="#fff" stroke="#679a3e" stroke-width="1"/>
<rect x="476.88" y="195.15" width="3" height="3" fill="#fff" stroke="#679a3e" stroke-width="1"/>
<rect x="499.62" y="209.12" width="3" height="3" fill="#fff" stroke="#679a3e" stroke-width="1"/>
<path d="M20.5 42.2V400.8" stroke="#000" stroke-width="1.5"/>
<path d="M20.5 34.2L24.9 44.4L20.5 42.4L16.1 44.4Z" fill="#000"/>
<path d="M278.9 42.4V264.4" stroke="#000" stroke-width="1.5"/>
<path d="M278.9 34.4L283.3 44.6L278.9 42.6L274.5 44.6Z" fill="#000"/>
<path d="M46.2 432.3H247" stroke="#000" stroke-width="1.5"/>
<path d="M255 432.3L243.8 427.8L246 432.3L243.8 436.8Z" fill="#000"/>
<path d="M305.3 295.9H505" stroke="#000" stroke-width="1.5"/>
<path d="M513 295.9L501.8 291.4L504 295.9L501.8 300.4Z" fill="#000"/>
<text x="150.7" y="444" class="ax" textLength="74" lengthAdjust="spacingAndGlyphs">Effector:target ratio</text>
<text x="409.1" y="307.8" class="ax" textLength="74.5" lengthAdjust="spacingAndGlyphs">Effector:target ratio</text>
<text transform="translate(15.3 216.9) rotate(-90)" x="0" y="0" class="sv" textLength="47.7" lengthAdjust="spacingAndGlyphs">Survival (%)</text>
<text transform="translate(273.0 142.8) rotate(-90)" x="0" y="0" class="sv" textLength="47" lengthAdjust="spacingAndGlyphs">Survival (%)</text>
<text x="6.6" y="16.2" class="pl">A</text>
<text x="264.1" y="16.2" class="pl">B</text>
</svg></body></html>
